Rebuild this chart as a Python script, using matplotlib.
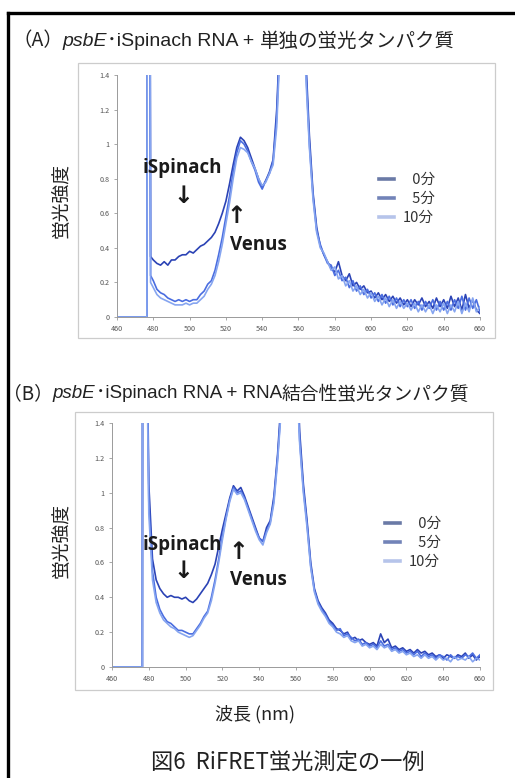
import matplotlib
matplotlib.use('Agg')
import matplotlib.pyplot as plt
from matplotlib.lines import Line2D
from matplotlib.patches import Rectangle

plt.rcParams['font.family'] = ['Noto Sans CJK JP', 'DejaVu Sans']

W, H = 515, 778

# measured part of the spectra, 2 nm steps
grid = list(range(480, 661, 2))

# panel A: lead-in (zero line + excitation spike), then spectrum
wl_a = [460, 476.5, 477.2, 478.5] + grid
a_0 = [0, 0, 8, 0.35,
       0.33, 0.31, 0.30, 0.32, 0.30, 0.33, 0.33, 0.35, 0.36, 0.36,
       0.38, 0.37, 0.39, 0.41, 0.42, 0.44, 0.46, 0.49, 0.54, 0.60,
       0.67, 0.77, 0.88, 0.98, 1.04, 1.02, 0.98, 0.92, 0.86, 0.80,
       0.75, 0.79, 0.84, 0.91, 1.20, 1.70, 2.6, 3.4, 3.9, 3.6,
       2.9, 2.1, 1.5, 1.05, 0.72, 0.52, 0.41, 0.36, 0.32, 0.28,
       0.26, 0.32, 0.24, 0.21, 0.25, 0.18, 0.20, 0.16, 0.18, 0.14,
       0.15, 0.11, 0.14, 0.10, 0.13, 0.09, 0.12, 0.08, 0.11, 0.07,
       0.10, 0.06, 0.10, 0.07, 0.11, 0.06, 0.09, 0.05, 0.11, 0.06,
       0.10, 0.05, 0.12, 0.06, 0.11, 0.04, 0.13, 0.05, 0.10, 0.04,
       0.02]
a_5 = [0, 0, 8, 0.24,
       0.21, 0.16, 0.14, 0.13, 0.11, 0.10, 0.09, 0.10, 0.09, 0.10,
       0.09, 0.10, 0.10, 0.13, 0.15, 0.19, 0.21, 0.27, 0.36, 0.46,
       0.58, 0.70, 0.84, 0.95, 1.02, 1.00, 0.96, 0.90, 0.85, 0.78,
       0.74, 0.79, 0.83, 0.90, 1.15, 1.65, 2.5, 3.3, 3.8, 3.5,
       2.8, 2.0, 1.45, 1.00, 0.70, 0.50, 0.42, 0.36, 0.31, 0.30,
       0.24, 0.27, 0.21, 0.23, 0.17, 0.21, 0.15, 0.18, 0.13, 0.16,
       0.11, 0.14, 0.09, 0.13, 0.08, 0.12, 0.07, 0.11, 0.06, 0.10,
       0.06, 0.10, 0.05, 0.09, 0.04, 0.09, 0.05, 0.10, 0.04, 0.09,
       0.04, 0.09, 0.04, 0.10, 0.05, 0.12, 0.04, 0.11, 0.05, 0.10,
       0.03]
a_10 = [0, 0, 8, 0.20,
        0.17, 0.13, 0.11, 0.10, 0.09, 0.08, 0.07, 0.07, 0.07, 0.08,
        0.07, 0.08, 0.08, 0.10, 0.12, 0.16, 0.19, 0.24, 0.32, 0.42,
        0.54, 0.66, 0.80, 0.92, 0.98, 0.97, 0.95, 0.90, 0.86, 0.80,
        0.76, 0.78, 0.83, 0.88, 1.10, 1.60, 2.4, 3.2, 3.7, 3.4,
        2.7, 1.9, 1.4, 0.98, 0.68, 0.49, 0.40, 0.37, 0.32, 0.27,
        0.29, 0.22, 0.24, 0.18, 0.21, 0.15, 0.18, 0.13, 0.16, 0.11,
        0.14, 0.09, 0.12, 0.07, 0.11, 0.06, 0.10, 0.05, 0.09, 0.05,
        0.08, 0.04, 0.08, 0.03, 0.07, 0.03, 0.07, 0.02, 0.07, 0.03,
        0.08, 0.02, 0.07, 0.03, 0.09, 0.02, 0.08, 0.03, 0.11, 0.03,
        0.06]

# panel B
wl_b = [460, 476.5, 477.0, 478.8, 479.4] + grid
b_0 = [0, 0, 8, 8, 1.6,
       1.05, 0.62, 0.50, 0.45, 0.42, 0.40, 0.41, 0.40, 0.40, 0.39,
       0.40, 0.38, 0.37, 0.39, 0.42, 0.45, 0.48, 0.53, 0.59, 0.69,
       0.79, 0.88, 0.97, 1.04, 1.01, 1.03, 0.98, 0.92, 0.86, 0.80,
       0.74, 0.72, 0.80, 0.84, 0.98, 1.22, 1.55, 2.4, 3.0, 2.7,
       1.9, 1.35, 1.05, 0.84, 0.60, 0.45, 0.38, 0.34, 0.31, 0.27,
       0.25, 0.22, 0.21, 0.19, 0.20, 0.16, 0.17, 0.15, 0.16, 0.14,
       0.13, 0.14, 0.12, 0.19, 0.14, 0.16, 0.11, 0.12, 0.10, 0.11,
       0.09, 0.10, 0.08, 0.10, 0.08, 0.09, 0.07, 0.08, 0.06, 0.07,
       0.05, 0.07, 0.06, 0.05, 0.07, 0.06, 0.08, 0.05, 0.07, 0.04,
       0.06]
b_5 = [0, 0, 8, 8, 1.5,
       0.95, 0.55, 0.40, 0.33, 0.29, 0.26, 0.25, 0.23, 0.21, 0.21,
       0.20, 0.19, 0.19, 0.22, 0.25, 0.29, 0.32, 0.40, 0.50, 0.62,
       0.75, 0.86, 0.96, 1.03, 1.00, 1.01, 0.97, 0.91, 0.85, 0.79,
       0.74, 0.72, 0.78, 0.83, 0.96, 1.20, 1.50, 2.3, 2.9, 2.6,
       1.8, 1.30, 1.02, 0.82, 0.58, 0.44, 0.37, 0.33, 0.30, 0.26,
       0.24, 0.21, 0.22, 0.18, 0.19, 0.17, 0.15, 0.16, 0.13, 0.14,
       0.12, 0.13, 0.11, 0.15, 0.12, 0.13, 0.10, 0.11, 0.09, 0.10,
       0.08, 0.09, 0.07, 0.09, 0.06, 0.08, 0.06, 0.07, 0.05, 0.07,
       0.06, 0.04, 0.07, 0.05, 0.06, 0.05, 0.07, 0.06, 0.08, 0.05,
       0.07]
b_10 = [0, 0, 8, 8, 1.4,
        0.88, 0.50, 0.37, 0.31, 0.27, 0.25, 0.23, 0.22, 0.20, 0.19,
        0.18, 0.17, 0.18, 0.21, 0.24, 0.28, 0.31, 0.38, 0.48, 0.60,
        0.73, 0.85, 0.95, 1.02, 0.99, 1.00, 0.96, 0.90, 0.84, 0.78,
        0.73, 0.70, 0.77, 0.82, 0.94, 1.18, 1.48, 2.2, 2.8, 2.5,
        1.75, 1.28, 1.00, 0.80, 0.57, 0.43, 0.36, 0.32, 0.29, 0.25,
        0.23, 0.20, 0.19, 0.17, 0.18, 0.15, 0.14, 0.15, 0.12, 0.13,
        0.11, 0.12, 0.10, 0.13, 0.11, 0.12, 0.09, 0.10, 0.08, 0.09,
        0.07, 0.08, 0.06, 0.07, 0.05, 0.07, 0.05, 0.06, 0.04, 0.06,
        0.04, 0.05, 0.03, 0.06, 0.04, 0.05, 0.04, 0.06, 0.03, 0.05,
        0.04]

series_labels = ['\u20070分', '\u20075分', '10分']
xticks = [460, 480, 500, 520, 540, 560, 580, 600, 620, 640, 660]
yticks = [0, 0.2, 0.4, 0.6, 0.8, 1.0, 1.2, 1.4]
ytick_labels = ['0', '0.2', '0.4', '0.6', '0.8', '1', '1.2', '1.4']

line_colors = ['#2b43b5', '#4a6de0', '#86a5f0']
legend_colors = ['#6a7aa6', '#7283b8', '#b6c4ea']


def px(x, y):
    return x / W, 1 - y / H


fig = plt.figure(figsize=(W / 100, H / 100), dpi=100)
renderer = fig.canvas.get_renderer()

# outer black frame (runs off the right / bottom of the image)
fig.add_artist(Line2D([8 / W, 8 / W], [1 - 13 / H, 0], color='black', lw=2.4,
                      transform=fig.transFigure))
fig.add_artist(Line2D([8 / W, 1], [1 - 13 / H, 1 - 13 / H], color='black', lw=2.4,
                      transform=fig.transFigure))


def title_line(x, y, parts):
    for txt, kw in parts:
        t = fig.text(*px(x, y), txt, va='center', ha='left', color='#222222', **kw)
        x += t.get_window_extent(renderer=renderer).width


def panel(box, axrect, wl, ys, ylab_xy, legend_xy, notes):
    x0, y0, x1, y1 = box
    fig.add_artist(Rectangle(px(x0, y1), (x1 - x0) / W, (y1 - y0) / H,
                             transform=fig.transFigure, fill=False,
                             edgecolor='#cccccc', lw=0.9))
    l, t, r, b = axrect
    ax = fig.add_axes([l / W, 1 - b / H, (r - l) / W, (b - t) / H])
    handles = []
    for y, c in zip(ys, line_colors):
        h, = ax.plot(wl, y, color=c, lw=1.2)
        handles.append(h)
    ax.set_xlim(460, 660)
    ax.set_ylim(0, 1.4)
    ax.set_xticks(xticks)
    ax.set_yticks(yticks)
    ax.set_yticklabels(ytick_labels)
    for s in ['top', 'right']:
        ax.spines[s].set_visible(False)
    for s in ['left', 'bottom']:
        ax.spines[s].set_color('#9a9a9a')
        ax.spines[s].set_linewidth(0.7)
    ax.tick_params(length=2.5, width=0.6, color='#9a9a9a', labelsize=5.2,
                   labelcolor='#555555', pad=3)
    ax.patch.set_alpha(0)

    fig.text(*px(*ylab_xy), '蛍光強度', rotation=90, fontsize=13.5,
             ha='center', va='center', color='#222222')

    leg = ax.legend(handles, series_labels, loc='center left',
                    bbox_to_anchor=px(*legend_xy), bbox_transform=fig.transFigure,
                    frameon=False, handlelength=1.0, handletextpad=0.6,
                    labelspacing=0.35, borderpad=0,
                    prop={'family': ['Noto Sans CJK JP', 'DejaVu Sans'], 'size': 10.5})
    for ln, c in zip(leg.get_lines(), legend_colors):
        ln.set_color(c)
        ln.set_linewidth(2.6)
    for tx in leg.get_texts():
        tx.set_color('#333333')

    for (nx, ny), txt, fam, size in notes:
        fig.text(*px(nx, ny), txt, ha='center', va='center', fontsize=size,
                 fontweight='bold', family=fam, color='#1a1a1a')
    return ax


bold_fam = ['Open Sans', 'DejaVu Sans']
arrow_fam = ['DejaVu Sans']

# (A)
title_line(12, 41, [
    ('（A）', dict(fontsize=14)),
    ('psbE', dict(fontsize=14, style='italic', family=['Liberation Sans'])),
    ('･iSpinach RNA + ', dict(fontsize=14, family=['Liberation Sans', 'Noto Sans CJK JP'])),
    ('単独の蛍光タンパク質', dict(fontsize=14)),
])
panel((78, 63, 495, 338), (117, 75, 480, 317), wl_a, [a_0, a_5, a_10],
      (60, 200), (372, 199),
      [((182, 168), 'iSpinach', bold_fam, 13.5), ((183, 196), '↓', arrow_fam, 17),
       ((236, 216), '↑', arrow_fam, 17), ((258, 245), 'Venus', bold_fam, 13.5)])

# (B)
title_line(3, 394, [
    ('（B）', dict(fontsize=13.5)),
    ('psbE', dict(fontsize=13.5, style='italic', family=['Liberation Sans'])),
    ('･iSpinach RNA + RNA', dict(fontsize=13.5, family=['Liberation Sans', 'Noto Sans CJK JP'])),
    ('結合性蛍光タンパク質', dict(fontsize=13.5)),
])
panel((75, 412, 493, 690), (112, 423, 480, 667), wl_b, [b_0, b_5, b_10],
      (60, 540), (378, 543),
      [((182, 545), 'iSpinach', bold_fam, 13.5), ((183, 571), '↓', arrow_fam, 17),
       ((238, 552), '↑', arrow_fam, 17), ((258, 580), 'Venus', bold_fam, 13.5)])

fig.text(*px(255, 714), '波長 (nm)', ha='center', va='center', fontsize=13,
         color='#222222')
fig.text(*px(288, 762), '図6  RiFRET蛍光測定の一例', ha='center', va='center',
         fontsize=16, color='#222222')

fig.savefig('out.png', dpi=100)
